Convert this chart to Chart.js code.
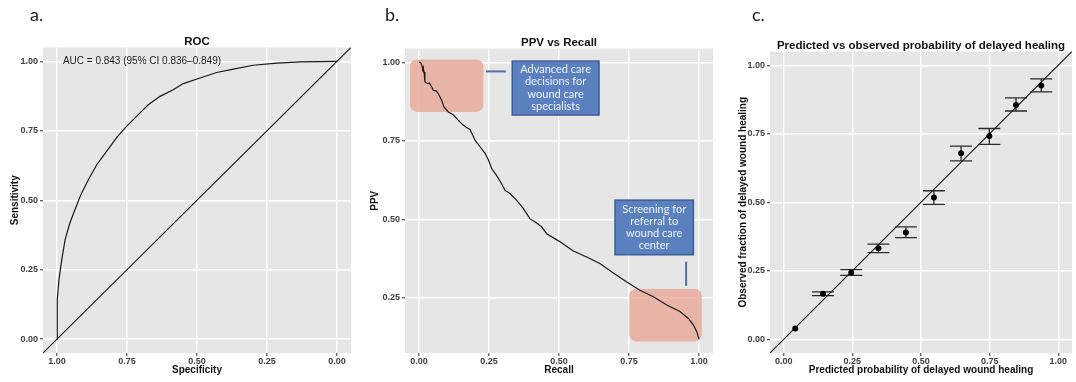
<!DOCTYPE html>
<html>
<head>
<meta charset="utf-8">
<script src="https://cdn.jsdelivr.net/npm/chart.js@4.4.1/dist/chart.umd.min.js"></script>
<style>
  body { margin: 0; background: #fff; }
  #wrap { position: relative; width: 1076px; height: 382px; overflow: hidden; }
  canvas { position: absolute; top: 0; }
  .tag { position: absolute; top: 5px; font-family: Lato, "Open Sans", sans-serif; font-size: 18px; line-height: 1; color: #222; }
</style>
</head>
<body>
<div id="wrap">
  <canvas id="roc" width="360" height="382" style="left:0"></canvas>
  <canvas id="ppv" width="360" height="382" style="left:360px"></canvas>
  <canvas id="cal" width="356" height="382" style="left:720px"></canvas>
  <div class="tag" style="left:30px">a.</div>
  <div class="tag" style="left:385px">b.</div>
  <div class="tag" style="left:752px">c.</div>
</div>
<script>
// tick labels shared by all three panels
const tickVals = [0, 0.25, 0.5, 0.75, 1];

// a. ROC curve (specificity on a reversed axis)
const rocSpec = [1.0, 1.0, 0.998, 0.993, 0.983, 0.971, 0.954, 0.936, 0.914, 0.888, 0.858, 0.823, 0.785, 0.75, 0.706, 0.674, 0.632, 0.585, 0.549, 0.489, 0.43, 0.37, 0.299, 0.215, 0.132, 0.0];
const rocSens = [0.0, 0.07, 0.142, 0.214, 0.286, 0.358, 0.418, 0.466, 0.522, 0.574, 0.628, 0.676, 0.728, 0.768, 0.812, 0.844, 0.874, 0.898, 0.92, 0.94, 0.96, 0.972, 0.986, 0.994, 0.998, 1.0];
const aucText = 'AUC = 0.843 (95% CI 0.836\u20130.849)';

// b. precision (PPV) vs recall
const prRecall = [0.0, 0.006, 0.011, 0.013, 0.015, 0.018, 0.021, 0.03, 0.037, 0.045, 0.051, 0.061, 0.069, 0.081, 0.089, 0.105, 0.123, 0.14, 0.158, 0.17, 0.182, 0.192, 0.2, 0.218, 0.236, 0.248, 0.26, 0.277, 0.295, 0.307, 0.325, 0.349, 0.373, 0.396, 0.42, 0.438, 0.456, 0.504, 0.551, 0.599, 0.646, 0.694, 0.742, 0.789, 0.837, 0.885, 0.932, 0.962, 0.98, 0.992, 1.0];
const prPpv = [1.0, 1.0, 0.987, 0.98, 0.985, 0.969, 0.938, 0.932, 0.934, 0.922, 0.911, 0.909, 0.9, 0.879, 0.858, 0.842, 0.832, 0.816, 0.8, 0.792, 0.786, 0.768, 0.752, 0.731, 0.71, 0.689, 0.661, 0.64, 0.613, 0.592, 0.582, 0.56, 0.534, 0.502, 0.488, 0.476, 0.454, 0.428, 0.399, 0.38, 0.359, 0.329, 0.3, 0.274, 0.253, 0.227, 0.206, 0.184, 0.163, 0.142, 0.118];

// c. calibration: predicted vs observed with error bars (first bin has none)
const calPred = [0.042, 0.143, 0.246, 0.345, 0.445, 0.547, 0.646, 0.749, 0.846, 0.938];
const calObs  = [0.039, 0.166, 0.244, 0.332, 0.39, 0.517, 0.679, 0.742, 0.855, 0.926];
const calLow  = [null, 0.159, 0.233, 0.316, 0.371, 0.492, 0.651, 0.711, 0.833, 0.903];
const calHigh = [null, 0.173, 0.254, 0.347, 0.41, 0.542, 0.705, 0.769, 0.881, 0.95];
const capHalf = 0.04;

// annotation shapes for panel b, in data units
const focusZones = [
  { x0: -0.032, x1: 0.23, y0: 0.842, y1: 1.009 },
  { x0: 0.751, x1: 1.01, y0: 0.111, y1: 0.278 }
];
const callouts = [
  { x0: 0.333, x1: 0.643, y0: 0.832, y1: 1.004, lines: ['Advanced care', 'decisions for', 'wound care', 'specialists'] },
  { x0: 0.7, x1: 0.98, y0: 0.387, y1: 0.561, lines: ['Screening for', 'referral to', 'wound care', 'center'] }
];
const leaders = [
  { x0: 0.239, x1: 0.31, y0: 0.971, y1: 0.971 },
  { x0: 0.954, x1: 0.954, y0: 0.288, y1: 0.365 }
];

const sans = '"Liberation Sans", Arial, Helvetica, sans-serif';

Chart.register({
  id: 'panelBg',
  beforeDraw(chart) {
    const { ctx, chartArea: a } = chart;
    ctx.save();
    ctx.fillStyle = '#E6E6E6';
    ctx.fillRect(a.left, a.top, a.width, a.height);
    ctx.restore();
  }
});

function axis(title, min, max, size, titlePad, horizontal, reverse) {
  return {
    type: 'linear',
    min: min,
    max: max,
    reverse: !!reverse,
    afterBuildTicks: s => { s.ticks = tickVals.filter(v => v >= min && v <= max).map(v => ({ value: v })); },
    afterFit: s => { if (horizontal) s.height = size; else s.width = size; },
    grid: { color: '#ffffff', lineWidth: 1.4, tickColor: '#666', tickLength: 3 },
    border: { display: false },
    ticks: {
      color: '#404040',
      padding: horizontal ? 0 : 2,
      font: { family: sans, size: 9, weight: 'bold' },
      callback: v => v.toFixed(2)
    },
    title: {
      display: true,
      text: title,
      color: '#111',
      font: { family: sans, size: 10, weight: 'bold', lineHeight: 1.2 },
      padding: horizontal ? { top: 0, bottom: 6 } : { top: titlePad, bottom: 0 }
    }
  };
}

function baseOptions(title, padTop, padRight, xAxis, yAxis) {
  return {
    responsive: false,
    animation: false,
    layout: { padding: { top: padTop, right: padRight, left: 0, bottom: 0 } },
    plugins: {
      legend: { display: false },
      tooltip: { enabled: false },
      title: {
        display: true,
        text: title,
        fullSize: false,
        color: '#111',
        padding: 0,
        font: { family: sans, size: 11.5, weight: 'bold', lineHeight: 1 }
      }
    },
    scales: { x: xAxis, y: yAxis }
  };
}

// ---- a. ROC
new Chart(document.getElementById('roc'), {
  type: 'line',
  data: {
    datasets: [
      {
        data: rocSpec.map((s, i) => ({ x: s, y: rocSens[i] })),
        borderColor: '#1a1a1a', borderWidth: 1.2, pointRadius: 0, tension: 0
      },
      {
        data: [-0.05, 1.05].map(s => ({ x: s, y: 1 - s })),
        borderColor: '#1a1a1a', borderWidth: 1.1, pointRadius: 0
      }
    ]
  },
  options: baseOptions('ROC', 36, 9,
    axis('Specificity', -0.05, 1.05, 29, 0, true, true),
    axis('Sensitivity', -0.05, 1.05, 43, 9, false)),
  plugins: [{
    id: 'aucNote',
    afterDatasetsDraw(chart) {
      const { ctx, scales: { x, y } } = chart;
      ctx.save();
      ctx.font = '10px ' + sans;
      ctx.fillStyle = '#1a1a1a';
      ctx.textAlign = 'left';
      ctx.textBaseline = 'middle';
      ctx.fillText(aucText, x.getPixelForValue(0.979), y.getPixelForValue(1.0));
      ctx.restore();
    }
  }]
});

// ---- b. PPV vs Recall
function box(ctx, x, y, w, h, r) {
  ctx.beginPath();
  if (ctx.roundRect) ctx.roundRect(x, y, w, h, r); else ctx.rect(x, y, w, h);
}

new Chart(document.getElementById('ppv'), {
  type: 'line',
  data: {
    datasets: [{
      data: prRecall.map((r, i) => ({ x: r, y: prPpv[i] })),
      borderColor: '#1a1a1a', borderWidth: 1.2, pointRadius: 0, tension: 0
    }]
  },
  options: baseOptions('PPV vs Recall', 37, 7,
    axis('Recall', -0.05, 1.05, 29, 0, true),
    axis('PPV', 0.074, 1.044, 45, 9, false)),
  plugins: [{
    id: 'notes',
    beforeDatasetsDraw(chart) {
      const { ctx, scales: { x, y } } = chart;
      ctx.save();
      ctx.fillStyle = 'rgba(232, 165, 150, 0.78)';
      focusZones.forEach(z => {
        const l = x.getPixelForValue(z.x0), r = x.getPixelForValue(z.x1);
        const t = y.getPixelForValue(z.y1), b = y.getPixelForValue(z.y0);
        box(ctx, l, t, r - l, b - t, 7);
        ctx.fill();
      });
      ctx.restore();
    },
    afterDatasetsDraw(chart) {
      const { ctx, scales: { x, y } } = chart;
      ctx.save();
      ctx.strokeStyle = '#4f6fa8';
      ctx.lineWidth = 2;
      leaders.forEach(s => {
        ctx.beginPath();
        ctx.moveTo(x.getPixelForValue(s.x0), y.getPixelForValue(s.y0));
        ctx.lineTo(x.getPixelForValue(s.x1), y.getPixelForValue(s.y1));
        ctx.stroke();
      });
      callouts.forEach(c => {
        const l = x.getPixelForValue(c.x0), r = x.getPixelForValue(c.x1);
        const t = y.getPixelForValue(c.y1), b = y.getPixelForValue(c.y0);
        ctx.fillStyle = '#5b80c0';
        ctx.fillRect(l, t, r - l, b - t);
        ctx.strokeStyle = '#3d5d98';
        ctx.lineWidth = 1.5;
        ctx.strokeRect(l, t, r - l, b - t);
        ctx.fillStyle = '#eef3fb';
        ctx.font = '11px Lato, "Open Sans", sans-serif';
        ctx.textAlign = 'center';
        ctx.textBaseline = 'middle';
        const lh = 12.3, cx = (l + r) / 2, cy = (t + b) / 2;
        c.lines.forEach((txt, i) => {
          ctx.fillText(txt, cx, cy + (i - (c.lines.length - 1) / 2) * lh);
        });
      });
      ctx.restore();
    }
  }]
});

// ---- c. calibration
new Chart(document.getElementById('cal'), {
  type: 'line',
  data: {
    datasets: [
      {
        type: 'scatter',
        data: calPred.map((p, i) => ({ x: p, y: calObs[i] })),
        pointRadius: 3, pointBackgroundColor: '#000', pointBorderWidth: 0, showLine: false
      },
      {
        data: [-0.05, 1.05].map(v => ({ x: v, y: v })),
        borderColor: '#1a1a1a', borderWidth: 1.1, pointRadius: 0
      }
    ]
  },
  options: baseOptions('Predicted vs observed probability of delayed healing', 40, 1,
    axis('Predicted probability of delayed wound healing', -0.05, 1.05, 29, 0, true),
    axis('Observed fraction of delayed wound healing', -0.05, 1.05, 50, 17, false)),
  plugins: [{
    id: 'errorBars',
    beforeDatasetsDraw(chart) {
      const { ctx, scales: { x, y } } = chart;
      ctx.save();
      ctx.strokeStyle = '#2b2b2b';
      ctx.lineWidth = 1.3;
      calPred.forEach((p, i) => {
        if (calLow[i] === null) return;
        const cx = x.getPixelForValue(p);
        const l = x.getPixelForValue(p - capHalf), r = x.getPixelForValue(p + capHalf);
        const lo = y.getPixelForValue(calLow[i]), hi = y.getPixelForValue(calHigh[i]);
        ctx.beginPath();
        ctx.moveTo(l, lo); ctx.lineTo(r, lo);
        ctx.moveTo(l, hi); ctx.lineTo(r, hi);
        ctx.moveTo(cx, lo); ctx.lineTo(cx, hi);
        ctx.stroke();
      });
      ctx.restore();
    }
  }]
});
</script>
</body>
</html>
